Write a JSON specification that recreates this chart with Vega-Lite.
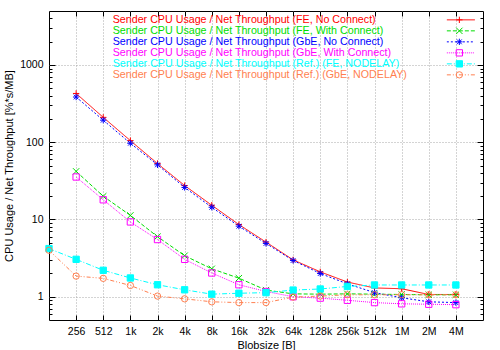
{
  "$schema": "https://vega.github.io/schema/vega-lite/v6.json",
  "width": 434,
  "height": 309,
  "autosize": {"type": "none"},
  "padding": {"left": 49, "top": 11, "right": 17, "bottom": 30},
  "background": "white",
  "config": {
    "font": "Liberation Sans",
    "view": {"stroke": "black", "strokeWidth": 1},
    "axis": {"labelFont": "Liberation Sans", "titleFont": "Liberation Sans", "labelFontSize": 10.5, "titleFontSize": 11, "titleFontWeight": "normal", "labelColor": "black", "titleColor": "black", "tickColor": "black", "domain": false, "labelFlush": false, "labelOverlap": false, "labelBound": false},
    "legend": {"padding": 0}
  },
  "data": {
    "values": [
      {"s": "(FE, No Connect)", "b": 256, "v": 428},
      {"s": "(FE, No Connect)", "b": 512, "v": 210},
      {"s": "(FE, No Connect)", "b": 1024, "v": 105},
      {"s": "(FE, No Connect)", "b": 2048, "v": 53},
      {"s": "(FE, No Connect)", "b": 4096, "v": 27.5},
      {"s": "(FE, No Connect)", "b": 8192, "v": 15.3},
      {"s": "(FE, No Connect)", "b": 16384, "v": 8.6},
      {"s": "(FE, No Connect)", "b": 32768, "v": 5.1},
      {"s": "(FE, No Connect)", "b": 65536, "v": 3.0},
      {"s": "(FE, No Connect)", "b": 131072, "v": 2.1},
      {"s": "(FE, No Connect)", "b": 262144, "v": 1.55},
      {"s": "(FE, No Connect)", "b": 524288, "v": 1.3},
      {"s": "(FE, No Connect)", "b": 1048576, "v": 1.27},
      {"s": "(FE, No Connect)", "b": 2097152, "v": 1.07},
      {"s": "(FE, No Connect)", "b": 4194304, "v": 1.07},
      {"s": "(FE, With Connect)", "b": 256, "v": 42},
      {"s": "(FE, With Connect)", "b": 512, "v": 20},
      {"s": "(FE, With Connect)", "b": 1024, "v": 11.3},
      {"s": "(FE, With Connect)", "b": 2048, "v": 6.0},
      {"s": "(FE, With Connect)", "b": 4096, "v": 3.4},
      {"s": "(FE, With Connect)", "b": 8192, "v": 2.3},
      {"s": "(FE, With Connect)", "b": 16384, "v": 1.74},
      {"s": "(FE, With Connect)", "b": 32768, "v": 1.22},
      {"s": "(FE, With Connect)", "b": 65536, "v": 1.09},
      {"s": "(FE, With Connect)", "b": 131072, "v": 1.08},
      {"s": "(FE, With Connect)", "b": 262144, "v": 1.09},
      {"s": "(FE, With Connect)", "b": 524288, "v": 1.08},
      {"s": "(FE, With Connect)", "b": 1048576, "v": 1.07},
      {"s": "(FE, With Connect)", "b": 2097152, "v": 1.06},
      {"s": "(FE, With Connect)", "b": 4194304, "v": 1.06},
      {"s": "(GbE, No Connect)", "b": 256, "v": 385},
      {"s": "(GbE, No Connect)", "b": 512, "v": 193},
      {"s": "(GbE, No Connect)", "b": 1024, "v": 97},
      {"s": "(GbE, No Connect)", "b": 2048, "v": 51},
      {"s": "(GbE, No Connect)", "b": 4096, "v": 26},
      {"s": "(GbE, No Connect)", "b": 8192, "v": 14.4},
      {"s": "(GbE, No Connect)", "b": 16384, "v": 8.2},
      {"s": "(GbE, No Connect)", "b": 32768, "v": 4.9},
      {"s": "(GbE, No Connect)", "b": 65536, "v": 2.95},
      {"s": "(GbE, No Connect)", "b": 131072, "v": 2.0},
      {"s": "(GbE, No Connect)", "b": 262144, "v": 1.47},
      {"s": "(GbE, No Connect)", "b": 524288, "v": 1.13},
      {"s": "(GbE, No Connect)", "b": 1048576, "v": 0.97},
      {"s": "(GbE, No Connect)", "b": 2097152, "v": 0.86},
      {"s": "(GbE, No Connect)", "b": 4194304, "v": 0.84},
      {"s": "(GbE, With Connect)", "b": 256, "v": 35.5},
      {"s": "(GbE, With Connect)", "b": 512, "v": 18},
      {"s": "(GbE, With Connect)", "b": 1024, "v": 9.3},
      {"s": "(GbE, With Connect)", "b": 2048, "v": 5.5},
      {"s": "(GbE, With Connect)", "b": 4096, "v": 3.05},
      {"s": "(GbE, With Connect)", "b": 8192, "v": 2.03},
      {"s": "(GbE, With Connect)", "b": 16384, "v": 1.43},
      {"s": "(GbE, With Connect)", "b": 32768, "v": 1.17},
      {"s": "(GbE, With Connect)", "b": 65536, "v": 1.0},
      {"s": "(GbE, With Connect)", "b": 131072, "v": 0.96},
      {"s": "(GbE, With Connect)", "b": 262144, "v": 0.9},
      {"s": "(GbE, With Connect)", "b": 524288, "v": 0.84},
      {"s": "(GbE, With Connect)", "b": 1048576, "v": 0.81},
      {"s": "(GbE, With Connect)", "b": 2097152, "v": 0.8},
      {"s": "(GbE, With Connect)", "b": 4194304, "v": 0.79},
      {"s": "(Ref.) (FE, NODELAY)", "b": 128, "v": 4.2},
      {"s": "(Ref.) (FE, NODELAY)", "b": 256, "v": 3.05},
      {"s": "(Ref.) (FE, NODELAY)", "b": 512, "v": 2.2},
      {"s": "(Ref.) (FE, NODELAY)", "b": 1024, "v": 1.75},
      {"s": "(Ref.) (FE, NODELAY)", "b": 2048, "v": 1.43},
      {"s": "(Ref.) (FE, NODELAY)", "b": 4096, "v": 1.23},
      {"s": "(Ref.) (FE, NODELAY)", "b": 8192, "v": 1.08},
      {"s": "(Ref.) (FE, NODELAY)", "b": 16384, "v": 1.11},
      {"s": "(Ref.) (FE, NODELAY)", "b": 32768, "v": 1.13},
      {"s": "(Ref.) (FE, NODELAY)", "b": 65536, "v": 1.22},
      {"s": "(Ref.) (FE, NODELAY)", "b": 131072, "v": 1.26},
      {"s": "(Ref.) (FE, NODELAY)", "b": 262144, "v": 1.36},
      {"s": "(Ref.) (FE, NODELAY)", "b": 524288, "v": 1.42},
      {"s": "(Ref.) (FE, NODELAY)", "b": 1048576, "v": 1.42},
      {"s": "(Ref.) (FE, NODELAY)", "b": 2097152, "v": 1.42},
      {"s": "(Ref.) (FE, NODELAY)", "b": 4194304, "v": 1.42},
      {"s": "(Ref.) (GbE, NODELAY)", "b": 128, "v": 4.0},
      {"s": "(Ref.) (GbE, NODELAY)", "b": 256, "v": 1.85},
      {"s": "(Ref.) (GbE, NODELAY)", "b": 512, "v": 1.73},
      {"s": "(Ref.) (GbE, NODELAY)", "b": 1024, "v": 1.4},
      {"s": "(Ref.) (GbE, NODELAY)", "b": 2048, "v": 1.02},
      {"s": "(Ref.) (GbE, NODELAY)", "b": 4096, "v": 0.94},
      {"s": "(Ref.) (GbE, NODELAY)", "b": 8192, "v": 0.86},
      {"s": "(Ref.) (GbE, NODELAY)", "b": 16384, "v": 0.84},
      {"s": "(Ref.) (GbE, NODELAY)", "b": 32768, "v": 0.84},
      {"s": "(Ref.) (GbE, NODELAY)", "b": 65536, "v": 0.99},
      {"s": "(Ref.) (GbE, NODELAY)", "b": 131072, "v": 1.02},
      {"s": "(Ref.) (GbE, NODELAY)", "b": 262144, "v": 1.06},
      {"s": "(Ref.) (GbE, NODELAY)", "b": 524288, "v": 1.06},
      {"s": "(Ref.) (GbE, NODELAY)", "b": 1048576, "v": 1.06},
      {"s": "(Ref.) (GbE, NODELAY)", "b": 2097152, "v": 1.06},
      {"s": "(Ref.) (GbE, NODELAY)", "b": 4194304, "v": 1.06}
    ]
  },
  "layer": [
    {
      "mark": {"type": "line", "strokeWidth": 1},
      "encoding": {
        "x": {
          "field": "b", "type": "quantitative",
          "scale": {"type": "log", "base": 2, "domain": [128, 8388608], "nice": false},
          "axis": {
            "orient": "bottom",
            "values": [256, 512, 1024, 2048, 4096, 8192, 16384, 32768, 65536, 131072, 262144, 524288, 1048576, 2097152, 4194304],
            "labelExpr": "datum.value >= 1048576 ? (datum.value / 1048576) + 'M' : (datum.value >= 1024 ? (datum.value / 1024) + 'k' : '' + datum.value)",
            "title": "Blobsize [B]",
            "grid": true, "gridColor": "#a8a8a8", "gridDash": [1, 2],
            "tickSize": -5, "labelPadding": 11, "titlePadding": 3
          }
        },
        "y": {
          "field": "v", "type": "quantitative",
          "scale": {"type": "log", "domain": [0.5, 5000], "nice": false},
          "axis": {
            "orient": "left",
            "values": [0.6, 0.7, 0.8, 0.9, 1, 2, 3, 4, 5, 6, 7, 8, 9, 10, 20, 30, 40, 50, 60, 70, 80, 90, 100, 200, 300, 400, 500, 600, 700, 800, 900, 1000, 2000, 3000, 4000],
            "labelExpr": "(datum.value == 1 || datum.value == 10 || datum.value == 100 || datum.value == 1000) ? '' + datum.value : ''",
            "title": "CPU Usage / Net Throughput [%*s/MB]",
            "grid": true, "gridColor": "#a8a8a8", "gridDash": [1, 2],
            "gridOpacity": {"condition": {"test": "datum.value == 1 || datum.value == 10 || datum.value == 100 || datum.value == 1000", "value": 1}, "value": 0},
            "tickSize": {"condition": {"test": "datum.value == 1 || datum.value == 10 || datum.value == 100 || datum.value == 1000", "value": -6}, "value": -3},
            "labelPadding": 12, "titlePadding": 5
          }
        },
        "stroke": {
          "field": "s", "type": "nominal",
          "scale": {"range": ["#ff0000", "#00dd00", "#0000ff", "#ff00ff", "#00ffff", "#ff7f50"]},
          "legend": {
            "orient": "none", "legendX": 406.5, "legendY": 3.5, "title": null,
            "symbolType": "M-7,0H7", "symbolSize": 16, "symbolStrokeWidth": 1,
            "symbolFillColor": "transparent",
            "symbolDash": {"expr": "scale('strokeDash', datum.value)"},
            "labelColor": {"expr": "scale('stroke', datum.value)"},
            "labelFontSize": 10.7, "labelFont": "Liberation Sans", "labelLimit": 400,
            "labelAlign": "left", "labelOffset": -353.5, "rowPadding": -1.1,
            "labelExpr": "'Sender CPU Usage / Net Throughput ' + datum.label"
          }
        },
        "strokeDash": {
          "field": "s", "type": "nominal",
          "scale": {
            "domain": ["(Ref.) (GbE, NODELAY)", "(Ref.) (FE, NODELAY)", "(GbE, With Connect)", "(GbE, No Connect)", "(FE, With Connect)", "(FE, No Connect)"],
            "range": [[4, 2, 1, 2, 1, 2], [5, 2, 1, 2], [1, 1], [2, 2], [4, 2], [1, 0]]
          },
          "legend": null
        }
      }
    },
    {
      "mark": {"type": "point", "size": 40, "strokeWidth": 1, "opacity": 1},
      "encoding": {
        "x": {
          "field": "b", "type": "quantitative",
          "axis": {
            "orient": "top", "labels": false, "title": null, "grid": false,
            "values": [256, 512, 1024, 2048, 4096, 8192, 16384, 32768, 65536, 131072, 262144, 524288, 1048576, 2097152, 4194304],
            "tickSize": -5
          }
        },
        "y": {
          "field": "v", "type": "quantitative",
          "axis": {
            "orient": "right", "labels": false, "title": null, "grid": false,
            "values": [0.6, 0.7, 0.8, 0.9, 1, 2, 3, 4, 5, 6, 7, 8, 9, 10, 20, 30, 40, 50, 60, 70, 80, 90, 100, 200, 300, 400, 500, 600, 700, 800, 900, 1000, 2000, 3000, 4000],
            "tickSize": {"condition": {"test": "datum.value == 1 || datum.value == 10 || datum.value == 100 || datum.value == 1000", "value": -6}, "value": -3}
          }
        },
        "stroke": {"field": "s", "type": "nominal", "legend": null},
        "fill": {
          "field": "s", "type": "nominal",
          "scale": {
            "domain": ["(Ref.) (GbE, NODELAY)", "(Ref.) (FE, NODELAY)", "(GbE, With Connect)", "(GbE, No Connect)", "(FE, With Connect)", "(FE, No Connect)"],
            "range": ["transparent", "#00ffff", "transparent", "transparent", "transparent", "transparent"]
          },
          "legend": null
        },
        "shape": {
          "field": "s", "type": "nominal",
          "scale": {
            "domain": ["(FE, No Connect)", "(FE, With Connect)", "(GbE, No Connect)", "(GbE, With Connect)", "(Ref.) (FE, NODELAY)", "(Ref.) (GbE, NODELAY)"],
            "range": ["M-1,0H1M0,-1V1", "M-1,-1L1,1M-1,1L1,-1", "M-1,0H1M0,-1V1M-0.75,-0.75L0.75,0.75M-0.75,0.75L0.75,-0.75", "square", "square", "circle"]
          },
          "legend": {
            "orient": "none", "legendX": 405, "legendY": 3.5, "title": null,
            "symbolSize": 40, "symbolStrokeWidth": 1,
            "symbolStrokeColor": {"expr": "scale('stroke', datum.value)"},
            "symbolFillColor": {"expr": "scale('fill', datum.value)"},
            "labelFontSize": 10.7, "labelOpacity": 0, "labelLimit": 3, "rowPadding": -1.1
          }
        }
      }
    }
  ],
  "resolve": {"axis": {"x": "independent", "y": "independent"}}
}
